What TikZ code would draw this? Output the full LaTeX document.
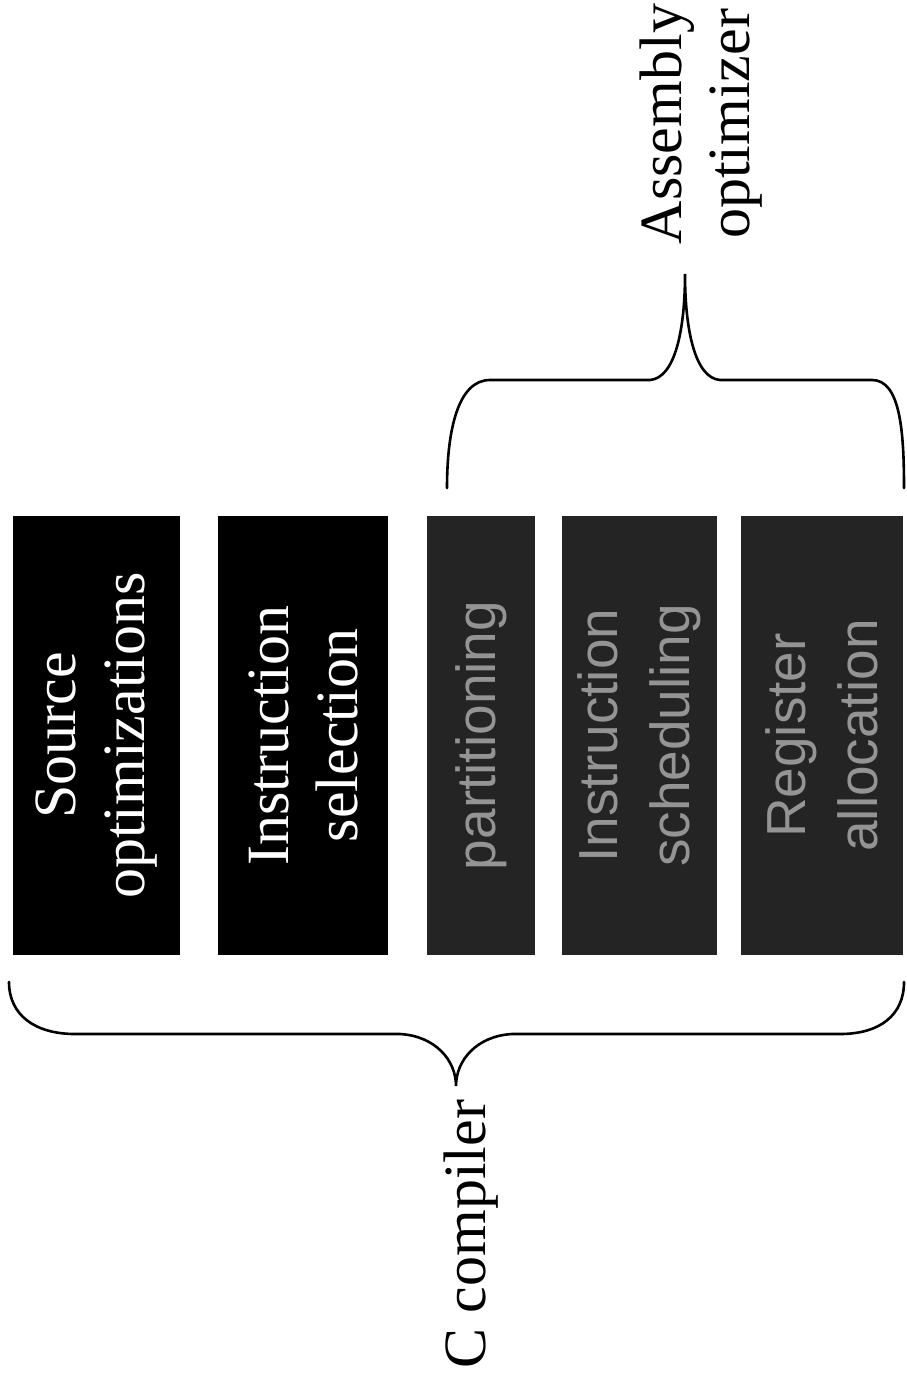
\documentclass[tikz,border=0pt]{standalone}
\usepackage{fontspec}
\setmainfont{Liberation Serif}
\newfontfamily\boxsans{Liberation Sans}
\tikzset{ccbox/.style={rotate=90, fill=black, text=white, inner sep=0pt, align=center,
                       minimum width=219.5pt, font=\fontsize{30}{34.5}\selectfont},
         asmbox/.style={ccbox, fill=black!86, text=black!42,
                       font=\boxsans\fontsize{27.5}{36}\selectfont},
         bracepath/.style={black, line width=1.3pt, line cap=round},
         brlabel/.style={rotate=90, align=center, inner sep=0pt, font=\fontsize{30}{34}\selectfont}}

\begin{document}
\begin{tikzpicture}[x=0.5pt,y=-0.5pt]
   \useasboundingbox (0,0) rectangle (906,1380);
   \begin{scope}
    \node[ccbox, minimum height=83.5pt]  (src)   at ( 96.5,735.5) {Source\\optimizations};
    \node[ccbox, minimum height=85pt]    (sel)   at (303.0,735.5) {Instruction\\selection};
    \node[asmbox, minimum height=54pt]   (part)  at (481.0,735.5) {partitioning};
    \node[asmbox, minimum height=77.5pt] (sched) at (639.5,735.5) {Instruction\\scheduling};
    \node[asmbox, minimum height=81pt]   (reg)   at (822.0,735.5) {Register\\allocation};
   \end{scope}
   \begin{scope}
    \coordinate (cl) at (9,982);
    \coordinate (cr) at (904,982);
    \coordinate (ctip) at (456,1086);
    \draw[bracepath] (cl) .. controls (9,1015) and (35,1034) .. (75,1034) -- (400,1034)
          .. controls (435,1036) and (456,1060) .. (ctip)
          .. controls (456,1060) and (477,1036) .. (512,1034) -- (840,1034)
          .. controls (880,1034) and (904,1015) .. (cr);
    \node[brlabel] (ccomp) at (471,1234) {C compiler};
   \end{scope}
   \begin{scope}
    \coordinate (al) at (447,488);
    \coordinate (ar) at (904,488);
    \coordinate (atip) at (685,274);
    \draw[bracepath] (al) .. controls (447,430) and (458,380) .. (490,380) -- (650,380)
          .. controls (675,378) and (685,330) .. (atip)
          .. controls (685,330) and (695,378) .. (720,380) -- (872,380)
          .. controls (900,380) and (904,430) .. (ar);
    \node[brlabel] (asmopt) at (701,124) {Assembly\\optimizer};
   \end{scope}
\end{tikzpicture}
\end{document}
